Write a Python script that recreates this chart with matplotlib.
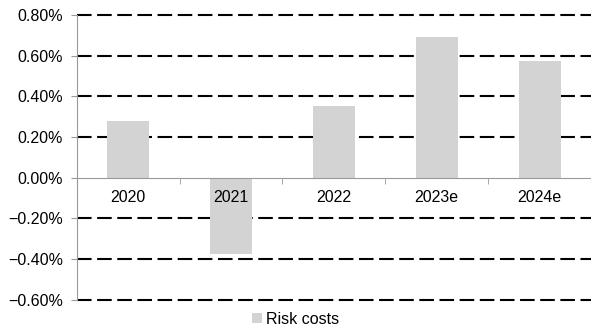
import numpy as np
import matplotlib
matplotlib.use("Agg")
import matplotlib.pyplot as plt
from matplotlib.ticker import PercentFormatter

# data
years = ["2020", "2021", "2022", "2023e", "2024e"]
risk_costs = [0.28, -0.375, 0.35, 0.69, 0.575]   # in %
yticks = [-0.6, -0.4, -0.2, 0.0, 0.2, 0.4, 0.6, 0.8]

plt.rcParams["font.family"] = ["Liberation Sans", "DejaVu Sans"]
plt.rcParams["font.size"] = 11.5
plt.rcParams["lines.scale_dashes"] = False

fig = plt.figure(figsize=(5.91, 3.31), dpi=100)
ax = fig.add_axes([0.130, 0.095, 0.87, 0.86])

x = np.arange(len(years))
ax.bar(x, risk_costs, width=0.41, color="#d3d3d3", zorder=2, label="Risk costs")

# dashed grid lines (not at zero, the axis line sits there)
for v in yticks:
    if v != 0:
        ax.axhline(v, color="black", lw=1.5, ls=(0, (10.5, 4)), zorder=1, clip_on=False)

ax.set_xlim(-0.5, len(years) - 0.5)
ax.set_ylim(-0.6, 0.8)
ax.set_yticks(yticks)
ax.yaxis.set_major_formatter(PercentFormatter(decimals=2))

ax.spines["top"].set_visible(False)
ax.spines["right"].set_visible(False)
ax.spines["left"].set_color("#999999")
ax.spines["bottom"].set_color("#999999")
ax.spines["bottom"].set_position(("data", 0))
ax.spines["bottom"].set_zorder(3)
ax.xaxis.set_zorder(4)

ax.set_xticks(x)
ax.set_xticklabels(years)
ax.set_xticks(np.arange(len(years) + 1) - 0.5, minor=True)
ax.tick_params(axis="x", which="major", length=0, pad=9)
ax.tick_params(axis="x", which="minor", length=4, color="#999999", direction="out")
ax.tick_params(axis="y", length=4, color="#999999", pad=6)

fig.legend(loc="center", bbox_to_anchor=(0.5, 0.036), frameon=False,
           handlelength=0.6, handleheight=0.6, handletextpad=0.25)

fig.savefig("out.png", dpi=100)
